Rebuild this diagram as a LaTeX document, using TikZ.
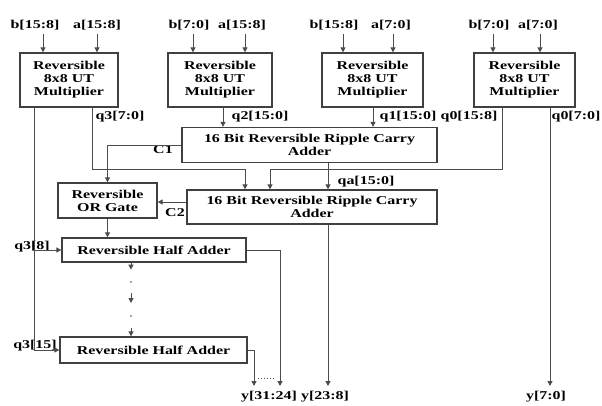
\documentclass[tikz,border=0pt]{standalone}
\usepackage{fontspec}
\setmainfont{Liberation Serif}[FakeStretch=1.33]
\usetikzlibrary{arrows.meta}
\begin{document}
\begin{tikzpicture}[x=1pt,y=-1pt,
  font=\fontsize{12}{13}\selectfont\bfseries,
  box/.style={draw=black!75, line width=1.3pt, inner sep=0pt, align=center},
  lbl/.style={inner sep=0pt},
  wire/.style={draw=black!70, line width=1pt},
  arr/.style={wire, -{Triangle[length=5pt,width=5pt]}}]
\useasboundingbox[fill=white] (0,0) rectangle (602,405);
% multipliers
\node[box, minimum width=98, minimum height=54] (m3) at (69,80) {Reversible\\8x8 UT\\Multiplier};
\node[box, minimum width=104, minimum height=54] (m2) at (220,80) {Reversible\\8x8 UT\\Multiplier};
\node[box, minimum width=101, minimum height=54] (m1) at (372.5,80) {Reversible\\8x8 UT\\Multiplier};
\node[box, minimum width=101, minimum height=54] (m0) at (524.5,80) {Reversible\\8x8 UT\\Multiplier};
% adders and gates
\node[box, minimum width=255, minimum height=35] (ad1) at (309.5,145) {16 Bit Reversible Ripple Carry\\Adder};
\node[box, minimum width=250, minimum height=34] (ad2) at (312,207) {16 Bit Reversible Ripple Carry\\Adder};
\node[box, minimum width=99, minimum height=35] (or) at (107.5,200.5) {Reversible\\OR Gate};
\node[box, minimum width=184, minimum height=24] (ha1) at (154,250) {Reversible Half Adder};
\node[box, minimum width=187, minimum height=26] (ha2) at (153.5,350) {Reversible Half Adder};
% input labels
\node[lbl] (b3) at (35,25) {b[15:8]};
\node[lbl] (a3) at (97,25) {a[15:8]};
\node[lbl] (b2) at (189,25) {b[7:0]};
\node[lbl] (a2) at (242,25) {a[15:8]};
\node[lbl] (b1) at (334,25) {b[15:8]};
\node[lbl] (a1) at (391,25) {a[7:0]};
\node[lbl] (b0) at (489,25) {b[7:0]};
\node[lbl] (a0) at (538,25) {a[7:0]};
% input arrows
\draw[arr] ([xshift=-26pt]m3.north) ++(0,-18) -- ([xshift=-26pt]m3.north);
\draw[arr] ([xshift=28pt]m3.north) ++(0,-18) -- ([xshift=28pt]m3.north);
\draw[arr] ([xshift=-27pt]m2.north) ++(0,-18) -- ([xshift=-27pt]m2.north);
\draw[arr] ([xshift=25pt]m2.north) ++(0,-18) -- ([xshift=25pt]m2.north);
\draw[arr] ([xshift=-29.5pt]m1.north) ++(0,-18) -- ([xshift=-29.5pt]m1.north);
\draw[arr] ([xshift=20.5pt]m1.north) ++(0,-18) -- ([xshift=20.5pt]m1.north);
\draw[arr] ([xshift=-31.5pt]m0.north) ++(0,-18) -- ([xshift=-31.5pt]m0.north);
\draw[arr] ([xshift=15.5pt]m0.north) ++(0,-18) -- ([xshift=15.5pt]m0.north);
% output labels
\node[lbl] (lq3) at (120,117) {q3[7:0]};
\node[lbl] (lq2) at (260,117) {q2[15:0]};
\node[lbl] (lq1) at (408,117) {q1[15:0]};
\node[lbl] (lq0h) at (469,117) {q0[15:8]};
\node[lbl] (lq0l) at (576,117) {q0[7:0]};
\node[lbl] (lqa) at (366,182) {qa[15:0]};
\node[lbl] (lc1) at (163,150) {C1};
\node[lbl] (lc2) at (175,213) {C2};
\node[lbl] (lq38) at (32,247) {q3[8]};
\node[lbl] (lq315) at (35,346) {q3[15]};
\node[lbl] (y3) at (269,397) {y[31:24]};
\node[lbl] (y1) at (325,397) {y[23:8]};
\node[lbl] (y0) at (546,397) {y[7:0]};
% helper coordinates
\coordinate (bot) at (0,386);
\coordinate (t1) at (245,169);
\coordinate (t2) at (270,169);
\coordinate (c2y) at (0,202);
\coordinate (o3l) at ([xshift=-35pt]m3.south);
\coordinate (o3r) at ([xshift=23pt]m3.south);
\coordinate (o2) at ([xshift=3pt]m2.south);
\coordinate (o1) at ([xshift=0.5pt]m1.south);
\coordinate (o0l) at ([xshift=-22.5pt]m0.south);
\coordinate (o0r) at ([xshift=25.5pt]m0.south);
\coordinate (oa) at ([xshift=18.5pt]ad1.south);
\coordinate (ob) at ([xshift=16pt]ad2.south);
\coordinate (e31) at (280,386);
\coordinate (e24) at (254,386);
% connections
\draw[arr] (o3l) |- (ha1.west);
\draw[arr] (o3l) |- (ha2.west);
\draw[arr] (o3r) |- (t1) -- (t1 |- ad2.north);
\draw[arr] (o2) -- (o2 |- ad1.north);
\draw[arr] (o1) -- (o1 |- ad1.north);
\draw[arr] (o0l) |- (t2) -- (t2 |- ad2.north);
\draw[arr] (o0r) -- (o0r |- bot);
\draw[arr] (oa) -- (oa |- ad2.north);
\draw[arr] (ob) -- (ob |- bot);
\draw[arr] (ad1.west) -| (or.north);
\draw[arr] (ad2.west |- c2y) -- (or.east |- c2y);
\draw[arr] (or.south) -- (or.south |- ha1.north);
\draw[arr] (ha1.east) -| (e31);
\draw[arr] (ha2.east) -| (e24);
\draw[wire, dotted] (258,378) -- (276,378);
% dotted chain between half adders
\coordinate (d0) at ([xshift=-23pt]ha1.south);
\draw[arr] (d0) -- ++(0,7);
\fill[black!70] (131,282) circle (0.9pt);
\draw[arr] (131,293) -- (131,303);
\fill[black!70] (131,316) circle (0.9pt);
\coordinate (d1) at (131,328);
\draw[arr] (d1) -- (d1 |- ha2.north);
\end{tikzpicture}
\end{document}
